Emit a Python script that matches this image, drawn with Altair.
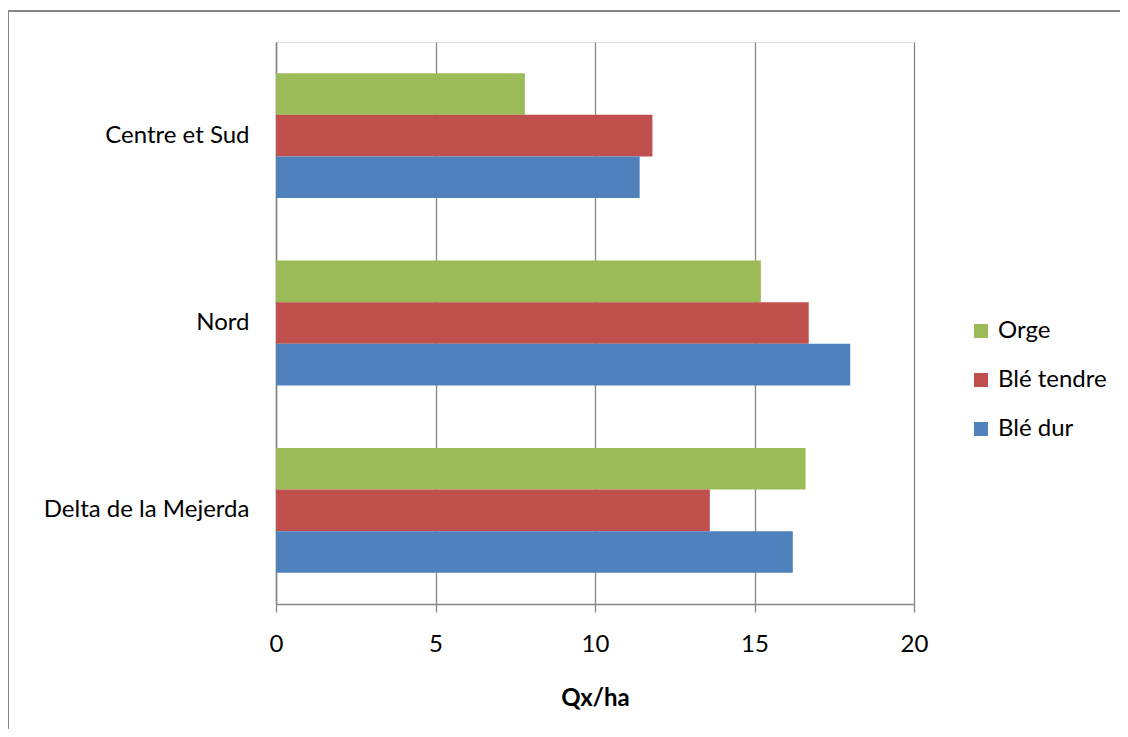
import altair as alt
import pandas as pd

regions = ["Centre et Sud", "Nord", "Delta de la Mejerda"]
series = ["Orge", "Blé tendre", "Blé dur"]
orge = [7.8, 15.2, 16.6]
ble_tendre = [11.8, 16.7, 13.6]
ble_dur = [11.4, 18.0, 16.2]
colors = ["#9BBB59", "#C0504D", "#4F81BD"]
x_ticks = [0, 5, 10, 15, 20]
x_title = "Qx/ha"

rows = []
for i, r in enumerate(regions):
    for s, vals in zip(series, [orge, ble_tendre, ble_dur]):
        rows.append({"Région": r, "Culture": s, "Valeur": vals[i]})
df = pd.DataFrame(rows)

FONT = "Lato"
FS = 24
GRAY = "#868686"

bars = alt.Chart(df).mark_bar().encode(
    x=alt.X(
        "Valeur:Q",
        scale=alt.Scale(domain=[0, 20], nice=False),
        axis=alt.Axis(
            values=x_ticks, title=x_title, grid=True, gridColor=GRAY, gridWidth=1.3,
            domainColor=GRAY, domainWidth=1.3, tickColor=GRAY, tickWidth=1.3, tickSize=8,
            labelFont=FONT, labelFontSize=FS, labelColor="#000000", labelPadding=20,
            labelFlush=False,
            titleFont=FONT, titleFontSize=FS, titleFontWeight="bold", titleColor="#000000",
            titlePadding=30,
        ),
    ),
    y=alt.Y(
        "Région:N",
        sort=regions,
        scale=alt.Scale(paddingInner=0.334, paddingOuter=0.167),
        axis=alt.Axis(
            title=None, ticks=False, tickSize=0, grid=False,
            domainColor=GRAY, domainWidth=1.5, labelLimit=0,
            labelFont=FONT, labelFontSize=FS, labelColor="#000000", labelPadding=27,
        ),
    ),
    yOffset=alt.YOffset("Culture:N", sort=series, scale=alt.Scale(paddingInner=0, paddingOuter=0)),
    color=alt.Color(
        "Culture:N",
        sort=series,
        scale=alt.Scale(domain=series, range=colors),
        legend=alt.Legend(
            title=None, orient="none", legendX=693, legendY=277,
            symbolType="square", symbolSize=196, symbolStrokeWidth=0,
            labelFont=FONT, labelFontSize=FS, labelColor="#000000", labelOffset=5,
            rowPadding=25, padding=0, labelLimit=0,
        ),
    ),
)

one = pd.DataFrame({"k": [0]})
frame_top = alt.Chart(one).mark_rule(color=GRAY, strokeWidth=2).encode(
    x=alt.value(-268), x2=alt.value(2000), y=alt.value(-31)
)
frame_left = alt.Chart(one).mark_rule(color=GRAY, strokeWidth=2).encode(
    x=alt.value(-268), y=alt.value(-31), y2=alt.value(1000)
)

chart = alt.layer(bars, frame_top, frame_left).properties(
    width=638,
    height=562,
    autosize=alt.AutoSizeParams(type="none"),
    padding={"left": 268, "top": 34, "right": 206, "bottom": 125},
).configure_view(stroke=None).configure(background="white")

chart.save("out.html", embed_options={"renderer": "svg", "actions": False})
